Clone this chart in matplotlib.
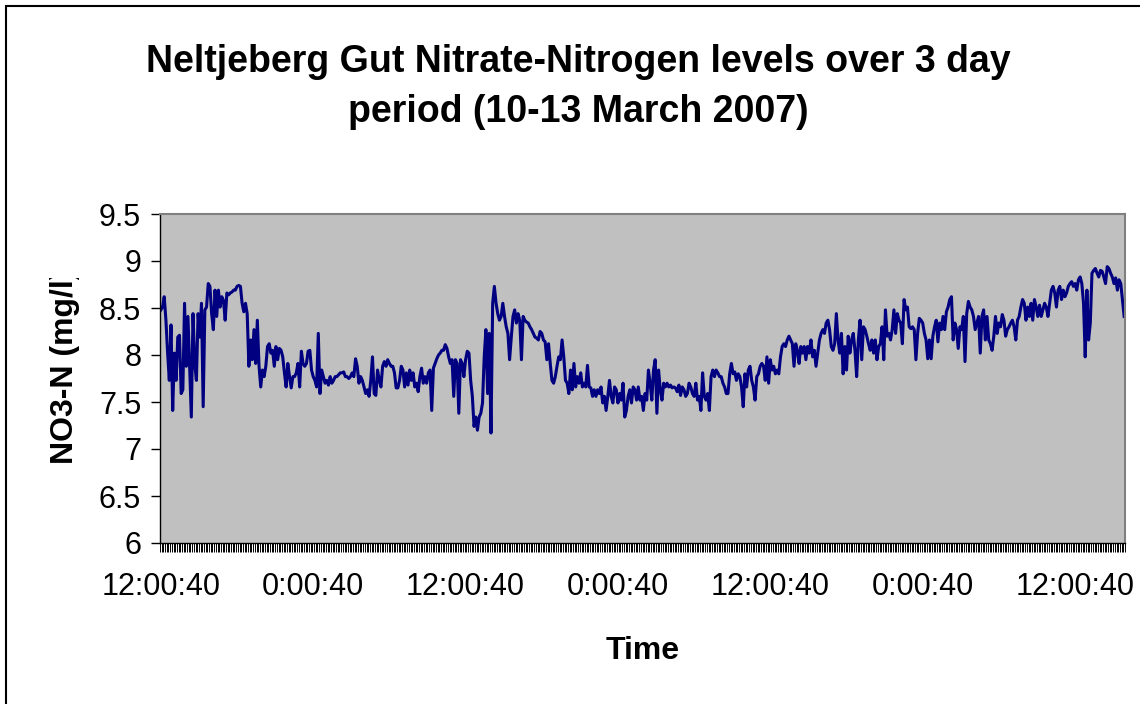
import numpy as np
import pandas as pd
import matplotlib
matplotlib.use("Agg")
import matplotlib.pyplot as plt
from matplotlib.ticker import FuncFormatter
from matplotlib.transforms import Bbox, TransformedBbox
from matplotlib.patches import Rectangle

plt.rcParams['font.family'] = ['Liberation Sans', 'DejaVu Sans']

# logger settings: readings every 8 minutes, axis labelled every 12 hours
start_time = "2007-03-10 12:00:40"
step_minutes = 8
label_every = 90

# NO3-N (mg/l) in time order
nitrate_part1 = [
    8.48, 8.51, 8.62, 8.37, 8.02, 7.73, 8.32, 7.41, 8.02, 7.73,
    8.19, 8.21, 7.59, 7.63, 8.55, 7.88, 8.41, 7.88, 7.34, 8.44,
    7.91, 7.73, 8.44, 8.19, 8.55, 7.45, 8.48, 8.51, 8.76, 8.73,
    8.44, 8.27, 8.69, 8.41, 8.69, 8.51, 8.62, 8.58, 8.37, 8.66,
    8.64, 8.66, 8.67, 8.69, 8.69, 8.73, 8.74, 8.73, 8.55, 8.46,
    8.55, 8.44, 7.88, 8.16, 7.95, 8.27, 7.91, 8.37, 7.88, 7.66,
    7.84, 7.77, 7.88, 8.09, 8.12, 8.02, 8.05, 7.88, 8.09, 7.95,
    8.07, 8.05, 7.98, 7.81, 7.66, 7.91, 7.77, 7.65, 7.77, 7.77,
    7.81, 7.91, 7.66, 8.04, 7.91, 7.88, 7.91, 8.04, 8.05, 7.84,
    7.77, 7.73, 7.66, 8.23, 7.59, 7.84, 7.77, 7.70, 7.73, 7.68,
    7.77, 7.70, 7.73, 7.77, 7.77, 7.79, 7.81, 7.81, 7.82, 7.77, 7.77,
]
nitrate_part2 = [
    7.75, 7.77, 7.81, 7.77, 7.96, 7.88, 7.70, 7.77, 7.73, 7.66,
    7.59, 7.63, 7.56, 7.73, 7.98, 7.59, 7.57, 7.84, 7.73, 7.66,
    7.88, 7.93, 7.88, 7.95, 7.91, 7.88, 7.88, 7.81, 7.65, 7.65,
    7.73, 7.88, 7.84, 7.66, 7.81, 7.68, 7.84, 7.73, 7.81, 7.66,
    7.70, 7.61, 7.77, 7.86, 7.70, 7.77, 7.70, 7.81, 7.84, 7.41,
    7.86, 7.91, 7.96, 8.00, 8.02, 8.05, 8.05, 8.11, 8.07, 7.98,
    7.91, 7.95, 7.56, 7.95, 7.91, 7.38, 7.95, 7.91, 7.77, 7.95,
    8.04, 8.02, 7.73, 7.56, 7.24, 7.34, 7.20, 7.34, 7.38, 7.49,
    7.98, 8.27, 7.59, 8.23, 7.17, 8.55, 8.73, 8.55, 8.44, 8.37,
    8.41, 8.55, 8.41, 8.30, 8.23, 7.95, 8.19, 8.41, 8.48, 8.34,
    8.44, 8.37, 7.95, 8.41, 8.37, 8.35, 8.34, 8.30, 8.27, 8.23,
    8.19, 8.18, 8.16,
]
nitrate_part3 = [
    8.25, 8.23, 8.16, 8.14, 7.95, 8.12, 7.91, 7.73, 7.70, 7.77,
    7.88, 7.98, 7.95, 8.16, 7.98, 7.73, 7.70, 7.59, 7.84, 7.63,
    7.91, 7.66, 7.77, 7.70, 7.81, 7.66, 7.70, 7.66, 7.89, 7.66,
    7.65, 7.56, 7.63, 7.56, 7.63, 7.59, 7.66, 7.49, 7.56, 7.41,
    7.56, 7.73, 7.56, 7.49, 7.66, 7.63, 7.49, 7.59, 7.52, 7.70,
    7.34, 7.41, 7.56, 7.63, 7.49, 7.66, 7.63, 7.52, 7.66, 7.52,
    7.56, 7.41, 7.59, 7.52, 7.84, 7.70, 7.52, 7.84, 7.95, 7.38,
    7.84, 7.63, 7.52, 7.70, 7.66, 7.70, 7.66, 7.68, 7.65, 7.66,
    7.65, 7.61, 7.68, 7.57, 7.66, 7.63, 7.56, 7.59, 7.70, 7.66,
    7.59, 7.56, 7.70, 7.52, 7.56, 7.41, 7.81, 7.56, 7.52, 7.59,
    7.41, 7.77, 7.84, 7.77, 7.84, 7.81, 7.77, 7.77, 7.70, 7.66,
    7.59,
]
nitrate_part4 = [
    7.59, 7.80, 7.91, 7.80, 7.82, 7.73, 7.80, 7.77, 7.66, 7.45,
    7.80, 7.66, 7.84, 7.88, 7.73, 7.66, 7.52, 7.77, 7.80, 7.88,
    7.91, 7.88, 7.73, 7.98, 7.70, 7.95, 7.84, 7.88, 7.80, 7.84,
    7.80, 7.98, 8.09, 8.12, 8.09, 8.16, 8.20, 8.16, 8.12, 7.88,
    8.12, 8.05, 7.91, 8.09, 8.02, 8.09, 7.95, 8.09, 8.02, 8.16,
    7.98, 8.05, 7.88, 8.02, 8.16, 8.23, 8.27, 8.23, 8.34, 8.37,
    8.27, 8.09, 8.05, 8.12, 8.44, 8.16, 8.02, 8.23, 7.80, 8.09,
    7.84, 8.20, 8.02, 8.16, 8.23, 8.05, 7.77, 8.16, 8.37, 7.95,
    8.30, 8.27, 8.20, 8.12, 8.05, 8.16, 8.02, 8.16, 7.95, 8.09,
    8.12, 8.30, 7.95, 8.48, 8.20, 8.23, 8.16, 8.27, 8.48, 8.23,
    8.44, 8.37, 8.34, 8.12, 8.59, 8.48, 8.51, 8.30, 8.28, 8.30,
    8.27, 7.95, 8.23,
]
nitrate_part5 = [
    8.39, 8.37, 8.34, 8.23, 8.16, 7.96, 8.16, 7.96, 8.20, 8.30,
    8.37, 8.14, 8.34, 8.27, 8.41, 8.27, 8.46, 8.51, 8.59, 8.62,
    8.16, 8.34, 8.27, 8.07, 8.30, 8.27, 8.41, 7.93, 8.44, 8.57,
    8.51, 8.48, 8.41, 8.27, 8.34, 8.41, 8.02, 8.41, 8.48, 8.16,
    8.41, 8.16, 8.12, 8.05, 8.20, 8.41, 8.23, 8.34, 8.30, 8.43,
    8.37, 8.20, 8.27, 8.30, 8.34, 8.37, 8.30, 8.16,
    8.37, 8.41, 8.51, 8.59, 8.55, 8.37, 8.51, 8.41, 8.55, 8.37,
    8.59, 8.51, 8.41, 8.53, 8.41, 8.48, 8.55, 8.51, 8.41, 8.55,
    8.69, 8.73, 8.66, 8.51, 8.69, 8.73, 8.59, 8.69,
    8.62, 8.66, 8.73, 8.76, 8.78, 8.73, 8.76, 8.69, 8.80, 8.83,
    8.76, 8.55, 7.98, 8.69, 8.16, 8.34, 8.87, 8.90,
    8.92, 8.87, 8.83, 8.90, 8.89, 8.83, 8.76, 8.94, 8.92,
    8.87, 8.83, 8.76, 8.82, 8.69, 8.80, 8.76, 8.59, 8.41,
]

nitrate = np.array(nitrate_part1 + nitrate_part2 + nitrate_part3
                   + nitrate_part4 + nitrate_part5)
times = pd.date_range(start_time, periods=len(nitrate), freq=f"{step_minutes}min")
x = np.arange(len(nitrate))

W, H = 1140, 704
fig = plt.figure(figsize=(W / 100, H / 100), dpi=100)
ax = fig.add_axes([160 / W, (H - 543) / H, 965 / W, 329 / H])
ax.set_facecolor("#c0c0c0")

ax.plot(x, nitrate, color="#000080", lw=2.2)

ax.set_xlim(-0.5, len(nitrate) - 0.5)
ax.set_ylim(6, 9.5)
ax.set_yticks(np.arange(6, 9.51, 0.5))
ax.yaxis.set_major_formatter(FuncFormatter(lambda v, p: f"{v:g}"))

# category axis: a tick between every reading, a label every 12 hours
label_idx = x[::label_every]
ax.set_xticks(label_idx)
ax.set_xticklabels([f"{t.hour}:{t:%M:%S}" for t in times[label_idx]])
ax.set_xticks(np.arange(len(nitrate) + 1) - 0.5, minor=True)
ax.tick_params(axis="x", which="major", length=0, pad=21, labelsize=22)
ax.tick_params(axis="x", which="minor", length=6.5, width=0.7, color="black")
ax.tick_params(axis="y", length=6.5, width=1, pad=7, labelsize=22)

for side in ["left", "bottom"]:
    ax.spines[side].set_color("black")
    ax.spines[side].set_linewidth(1)
for side in ["top", "right"]:
    ax.spines[side].set_color("#808080")
    ax.spines[side].set_linewidth(1.5)

ax.set_xlabel("Time", fontsize=23, fontweight="bold")
ax.xaxis.set_label_coords(0.5, (543 - 636) / 329)

ax.set_ylabel("NO3-N (mg/l)", fontsize=23, fontweight="bold")
ax.yaxis.set_label_coords((80 - 160) / 965, (543 - 366) / 329)
# the original label is cut off at the top
ylab = ax.yaxis.label
ylab.set_clip_box(TransformedBbox(Bbox([[0, 0], [1, 1 - 278 / H]]), fig.transFigure))
ylab.set_clip_on(True)

fig.text(578 / W, 1 - 72 / H, "Neltjeberg Gut Nitrate-Nitrogen levels over 3 day",
         ha="center", va="baseline", fontsize=27, fontweight="bold")
fig.text(578 / W, 1 - 122 / H, "period (10-13 March 2007)",
         ha="center", va="baseline", fontsize=27, fontweight="bold")

# chart area border
fig.patches.append(Rectangle((6 / W, -0.1), 1.2, 1.1 - 6 / H, transform=fig.transFigure,
                             fill=False, edgecolor="black", lw=1.5))

fig.savefig("out.png", dpi=100)
